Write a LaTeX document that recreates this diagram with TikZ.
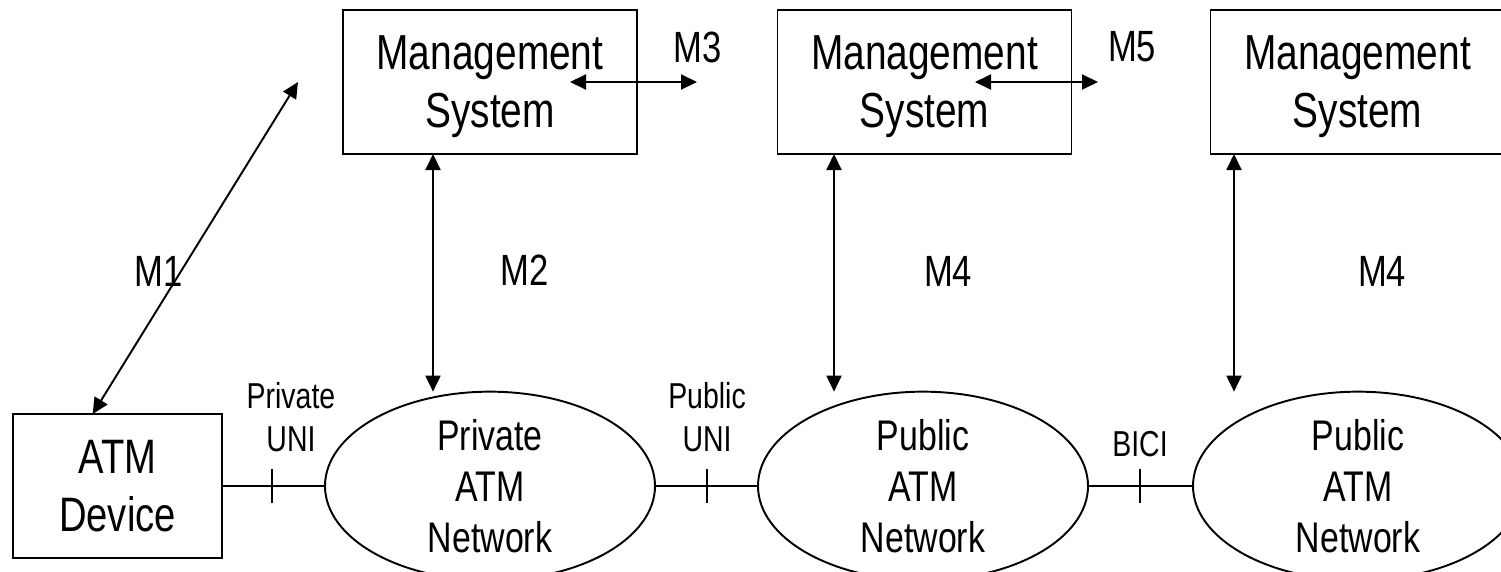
\documentclass[tikz,border=0pt]{standalone}
\usepackage{fontspec}
\setmainfont{Liberation Sans}[FakeStretch=0.79]
\usetikzlibrary{arrows.meta, shapes.geometric}

\begin{document}
\begin{tikzpicture}[
		line width=1.1pt,
		mgmt/.style={draw, rectangle, minimum width=5.88cm, minimum height=2.88cm, inner sep=0pt, outer sep=0pt, text depth=0pt, align=center, font=\fontsize{28}{33}\selectfont},
		device/.style={draw, rectangle, minimum width=4.18cm, minimum height=2.88cm, inner sep=0pt, outer sep=0pt, align=center, font=\fontsize{27.5}{33}\selectfont},
		net/.style={draw, ellipse, minimum width=6.6cm, minimum height=3.52cm, inner sep=0pt, outer sep=0pt, align=center, font=\fontsize{24.4}{29}\selectfont},
		iface/.style={align=center, inner sep=0pt, font=\fontsize{20.5}{24.5}\selectfont},
		mlabel/.style={inner sep=0pt, font=\fontsize{24.9}{29}\selectfont},
		link/.style={{Triangle[length=3.2mm,width=3mm]}-{Triangle[length=3.2mm,width=3mm]}},
	]
	\useasboundingbox (0,0) rectangle (30.02,11.42);
	% Management systems
	\node[mgmt] (ms1) at (9.8,9.78) {Management\\System};
	\node[mgmt] (ms2) at (18.49,9.78) {Management\\System};
	\node[mgmt] (ms3) at (27.15,9.78) {Management\\System};
	% Device and networks
	\node[device] (dev) at (2.35,1.70) {ATM\\Device};
	\node[net] (net1) at (9.8,1.70) {Private\\ATM\\Network};
	\node[net] (net2) at (18.46,1.70) {Public\\ATM\\Network};
	\node[net] (net3) at (27.16,1.70) {Public\\ATM\\Network};
	% Physical links
	\draw (dev.east) -- (net1.west);
	\draw (net1.east) -- (net2.west);
	\draw (net2.east) -- (net3.west);
	\foreach \x in {5.44,14.14,22.8} {
			\draw (\x,1.36) -- (\x,2.04);
		}
	% Interface labels
	\node[iface] (uni1) at (5.82,3.08) {Private\\UNI};
	\node[iface] (uni2) at (14.14,3.08) {Public\\UNI};
	\node[iface] (bici) at (22.8,2.54) {BICI};
	% Management interfaces
	\coordinate (m1top) at (5.96,9.78);
	\draw[link] (dev.109) -- (m1top);
	\coordinate (m2) at (8.66,6);
	\draw[link] (ms1.south -| m2) -- (net1.north -| m2);
	\coordinate (m4a) at (16.68,6);
	\draw[link] (ms2.south -| m4a) -- (net2.north -| m4a);
	\coordinate (m4b) at (24.68,6);
	\draw[link] (ms3.south -| m4b) -- (net3.north -| m4b);
	\coordinate (m3l) at (11.4,9.78);
	\coordinate (m3r) at (13.94,9.78);
	\draw[link] (m3l) -- (m3r);
	\coordinate (m5l) at (19.5,9.78);
	\coordinate (m5r) at (21.96,9.78);
	\draw[link] (m5l) -- (m5r);
	% M labels
	\node[mlabel] (lm1) at (3.18,6.0) {M1};
	\node[mlabel] (lm2) at (10.5,6.02) {M2};
	\node[mlabel] (lm4a) at (18.96,6.0) {M4};
	\node[mlabel] (lm4b) at (27.64,6.0) {M4};
	\node[mlabel] (lm3) at (13.96,10.48) {M3};
	\node[mlabel] (lm5) at (22.64,10.48) {M5};
\end{tikzpicture}
\end{document}
